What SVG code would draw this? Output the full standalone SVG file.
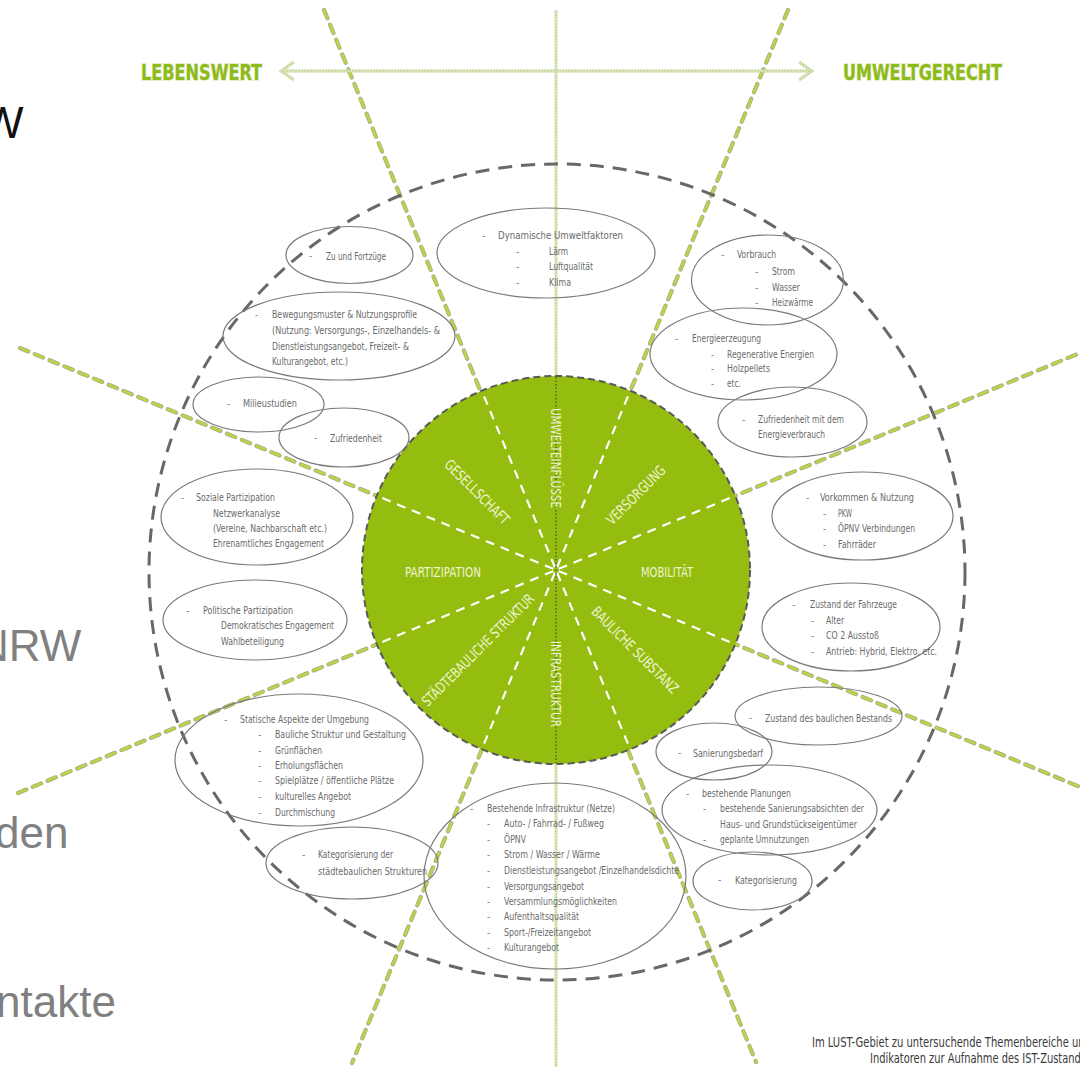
<svg xmlns="http://www.w3.org/2000/svg" width="1080" height="1067" viewBox="0 0 1080 1067">
<style>
.bg{fill:#ffffff}
.gu{fill:none;stroke:#a6b385;stroke-width:4.2;stroke-dasharray:9 7;stroke-linecap:round}
.gt{fill:none;stroke:#bcd640;stroke-width:2.3;stroke-dasharray:9 7;stroke-linecap:round}
.du{fill:none;stroke:#c6d79a;stroke-width:2.8}
.dt{fill:none;stroke:#ffffff;stroke-width:1;stroke-dasharray:1.4 1.6}
.outer{fill:none;stroke:#686868;stroke-width:3;stroke-dasharray:14 9}
.el{fill:none;stroke:#7a7a7a;stroke-width:1.2}
.t{font-family:'DejaVu Sans Condensed','Liberation Sans Narrow','Liberation Sans',sans-serif;font-size:11px;fill:#6a6a6a}
.b{font-family:'Liberation Sans',sans-serif;font-size:10px;fill:#8a8a8a}
.lab{font-family:'DejaVu Sans Condensed','Liberation Sans Narrow','Liberation Sans',sans-serif;font-size:14.5px;fill:#eef4d2}
.head{font-family:'DejaVu Sans Condensed','DejaVu Sans',sans-serif;font-weight:bold;font-size:22px;fill:#8dbb1a;stroke:#dfe9c0;stroke-width:1.6;paint-order:stroke}
.slide{font-family:'Liberation Sans',Arial,sans-serif;font-size:44px}
.cap{font-family:'DejaVu Sans Condensed','Liberation Sans Narrow','Liberation Sans',sans-serif;font-size:14.5px;fill:#3a3a3a}
.spoke{stroke:#ffffff;stroke-width:2.2;stroke-dasharray:9 7;stroke-dashoffset:-3}
</style>
<rect class="bg" x="0" y="0" width="1080" height="1067"/>

<g id="slide-text">
<text class="slide" x="-18" y="138" fill="#111111">W</text>
<text class="slide" x="-23" y="661" fill="#808080">NRW</text>
<text class="slide" x="-5" y="848" fill="#808080">den</text>
<text class="slide" x="-4" y="1017" fill="#808080">ntakte</text>
</g>

<g id="connectors">
<line class="gu" x1="324" y1="10" x2="756" y2="1062"/>
<line class="gt" x1="324" y1="10" x2="756" y2="1062"/>
<line class="gu" x1="788" y1="10" x2="352" y2="1063"/>
<line class="gt" x1="788" y1="10" x2="352" y2="1063"/>
<line class="gu" x1="20" y1="348" x2="1080" y2="787"/>
<line class="gt" x1="20" y1="348" x2="1080" y2="787"/>
<line class="gu" x1="18" y1="793" x2="1080" y2="353"/>
<line class="gt" x1="18" y1="793" x2="1080" y2="353"/>
<line class="du" x1="556" y1="10" x2="556" y2="1067"/>
<line class="dt" x1="556" y1="10" x2="556" y2="1067"/>
<line class="du" x1="282" y1="71" x2="811" y2="71"/>
<line class="dt" x1="282" y1="71" x2="811" y2="71"/>
<polyline class="du" points="294,62 281,71 294,80"/>
<polyline class="dt" points="294,62 281,71 294,80"/>
<polyline class="du" points="799,62 812,71 799,80"/>
<polyline class="dt" points="799,62 812,71 799,80"/>
</g>

<g id="outer-ring">
<circle class="outer" cx="557" cy="572" r="408"/>
</g>

<g id="heading-left"><text class="head" x="141" y="80" textLength="121" lengthAdjust="spacingAndGlyphs">LEBENSWERT</text></g>
<g id="heading-right"><text class="head" x="843" y="80" textLength="159" lengthAdjust="spacingAndGlyphs">UMWELTGERECHT</text></g>

<g id="core">
<circle cx="556" cy="570" r="194" fill="#95bd0f" stroke="#5a5a5a" stroke-width="2" stroke-dasharray="7 4"/>
<g transform="translate(556,570)">
<line class="spoke" x1="0" y1="0" x2="-74.2" y2="-179.2"/>
<line class="spoke" x1="0" y1="0" x2="74.2" y2="-179.2"/>
<line class="spoke" x1="0" y1="0" x2="-179.2" y2="-74.2"/>
<line class="spoke" x1="0" y1="0" x2="179.2" y2="-74.2"/>
<line class="spoke" x1="0" y1="0" x2="-179.2" y2="74.2"/>
<line class="spoke" x1="0" y1="0" x2="179.2" y2="74.2"/>
<line class="spoke" x1="0" y1="0" x2="-74.2" y2="179.2"/>
<line class="spoke" x1="0" y1="0" x2="74.2" y2="179.2"/>
</g>
<line x1="556" y1="377" x2="556" y2="763" stroke="#4f5a3a" stroke-width="1.4" stroke-dasharray="1.5 2"/>
<text class="lab" x="405" y="577" textLength="76" lengthAdjust="spacingAndGlyphs">PARTIZIPATION</text>
<text class="lab" x="641" y="577" textLength="52" lengthAdjust="spacingAndGlyphs">MOBILITÄT</text>
<text class="lab" transform="translate(556,458) rotate(90)" x="-50" y="5" textLength="100" lengthAdjust="spacingAndGlyphs">UMWELTEINFLÜSSE</text>
<text class="lab" transform="translate(556,684) rotate(90)" x="-43" y="5" textLength="86" lengthAdjust="spacingAndGlyphs">INFRASTRUKTUR</text>
<text class="lab" transform="translate(477,492) rotate(45)" x="-42.5" y="5" textLength="85" lengthAdjust="spacingAndGlyphs">GESELLSCHAFT</text>
<text class="lab" transform="translate(636,495) rotate(-45)" x="-38.5" y="5" textLength="77" lengthAdjust="spacingAndGlyphs">VERSORGUNG</text>
<text class="lab" transform="translate(478,650) rotate(-45)" x="-76" y="5" textLength="152" lengthAdjust="spacingAndGlyphs">STÄDTEBAULICHE STRUKTUR</text>
<text class="lab" transform="translate(635,650) rotate(45)" x="-58" y="5" textLength="116" lengthAdjust="spacingAndGlyphs">BAULICHE SUBSTANZ</text>
</g>

<g id="n-zu-fortzuege">
<ellipse class="el" cx="349.5" cy="255" rx="63.5" ry="28.5"/>
<text class="b" x="309" y="259">-</text>
<text class="t" x="326" y="260" textLength="60" lengthAdjust="spacingAndGlyphs">Zu und Fortzüge</text>
</g>

<g id="n-umweltfaktoren">
<ellipse class="el" cx="546" cy="253" rx="109" ry="45"/>
<text class="b" x="482" y="239">-</text>
<text class="t" x="498" y="239" textLength="125" lengthAdjust="spacingAndGlyphs">Dynamische Umweltfaktoren</text>
<text class="b" x="516" y="255">-</text>
<text class="t" x="549" y="255" textLength="19" lengthAdjust="spacingAndGlyphs">Lärm</text>
<text class="b" x="516" y="270">-</text>
<text class="t" x="549" y="270" textLength="44" lengthAdjust="spacingAndGlyphs">Luftqualität</text>
<text class="b" x="516" y="286">-</text>
<text class="t" x="549" y="286" textLength="22" lengthAdjust="spacingAndGlyphs">Klima</text>
</g>

<g id="n-verbrauch">
<ellipse class="el" cx="767.5" cy="280" rx="76" ry="45"/>
<text class="b" x="721" y="258">-</text>
<text class="t" x="737" y="258" textLength="39" lengthAdjust="spacingAndGlyphs">Vorbrauch</text>
<text class="b" x="755" y="275">-</text>
<text class="t" x="772" y="275" textLength="23" lengthAdjust="spacingAndGlyphs">Strom</text>
<text class="b" x="755" y="291">-</text>
<text class="t" x="772" y="291" textLength="28" lengthAdjust="spacingAndGlyphs">Wasser</text>
<text class="b" x="755" y="306">-</text>
<text class="t" x="772" y="306" textLength="41" lengthAdjust="spacingAndGlyphs">Heizwärme</text>
</g>

<g id="n-energieerzeugung">
<ellipse class="el" cx="743.5" cy="354" rx="93.5" ry="46"/>
<text class="b" x="675" y="342">-</text>
<text class="t" x="692" y="342" textLength="69" lengthAdjust="spacingAndGlyphs">Energieerzeugung</text>
<text class="b" x="711" y="358">-</text>
<text class="t" x="727" y="358" textLength="87" lengthAdjust="spacingAndGlyphs">Regenerative Energien</text>
<text class="b" x="711" y="372">-</text>
<text class="t" x="727" y="372" textLength="43" lengthAdjust="spacingAndGlyphs">Holzpellets</text>
<text class="b" x="711" y="387">-</text>
<text class="t" x="727" y="387" textLength="14" lengthAdjust="spacingAndGlyphs">etc.</text>
</g>

<g id="n-zufriedenheit-energie">
<ellipse class="el" cx="792.5" cy="422" rx="74.5" ry="35"/>
<text class="b" x="742" y="423">-</text>
<text class="t" x="758" y="423" textLength="86" lengthAdjust="spacingAndGlyphs">Zufriedenheit mit dem</text>
<text class="t" x="758" y="438" textLength="67" lengthAdjust="spacingAndGlyphs">Energieverbrauch</text>
</g>

<g id="n-bewegungsmuster">
<ellipse class="el" cx="339" cy="336" rx="116" ry="44"/>
<text class="b" x="255" y="318">-</text>
<text class="t" x="272" y="318" textLength="145" lengthAdjust="spacingAndGlyphs">Bewegungsmuster &amp; Nutzungsprofile</text>
<text class="t" x="272" y="334" textLength="168" lengthAdjust="spacingAndGlyphs">(Nutzung: Versorgungs-, Einzelhandels- &amp;</text>
<text class="t" x="272" y="350" textLength="137" lengthAdjust="spacingAndGlyphs">Dienstleistungsangebot, Freizeit- &amp;</text>
<text class="t" x="272" y="365" textLength="76" lengthAdjust="spacingAndGlyphs">Kulturangebot, etc.)</text>
</g>

<g id="n-milieustudien">
<ellipse class="el" cx="258.5" cy="404.5" rx="65.5" ry="27.5"/>
<text class="b" x="227" y="407">-</text>
<text class="t" x="243" y="407" textLength="54" lengthAdjust="spacingAndGlyphs">Milieustudien</text>
</g>

<g id="n-zufriedenheit">
<ellipse class="el" cx="344" cy="437.5" rx="65" ry="29.5"/>
<text class="b" x="314" y="441">-</text>
<text class="t" x="330" y="442" textLength="52" lengthAdjust="spacingAndGlyphs">Zufriedenheit</text>
</g>

<g id="n-soziale-partizipation">
<ellipse class="el" cx="257" cy="517" rx="96" ry="48"/>
<text class="b" x="181" y="501">-</text>
<text class="t" x="196" y="501" textLength="79" lengthAdjust="spacingAndGlyphs">Soziale Partizipation</text>
<text class="t" x="213" y="517" textLength="67" lengthAdjust="spacingAndGlyphs">Netzwerkanalyse</text>
<text class="t" x="213" y="532" textLength="114" lengthAdjust="spacingAndGlyphs">(Vereine, Nachbarschaft etc.)</text>
<text class="t" x="213" y="547" textLength="111" lengthAdjust="spacingAndGlyphs">Ehrenamtliches Engagement</text>
</g>

<g id="n-politische-partizipation">
<ellipse class="el" cx="255" cy="620" rx="92" ry="40"/>
<text class="b" x="186" y="614">-</text>
<text class="t" x="203" y="614" textLength="90" lengthAdjust="spacingAndGlyphs">Politische Partizipation</text>
<text class="t" x="221" y="629" textLength="113" lengthAdjust="spacingAndGlyphs">Demokratisches Engagement</text>
<text class="t" x="221" y="645" textLength="63" lengthAdjust="spacingAndGlyphs">Wahlbeteiligung</text>
</g>

<g id="n-vorkommen-nutzung">
<ellipse class="el" cx="862.5" cy="516" rx="90.5" ry="44"/>
<text class="b" x="806" y="501">-</text>
<text class="t" x="820" y="501" textLength="94" lengthAdjust="spacingAndGlyphs">Vorkommen &amp; Nutzung</text>
<text class="b" x="823" y="517">-</text>
<text class="t" x="838" y="517" textLength="14" lengthAdjust="spacingAndGlyphs">PKW</text>
<text class="b" x="823" y="532">-</text>
<text class="t" x="838" y="532" textLength="77" lengthAdjust="spacingAndGlyphs">ÖPNV Verbindungen</text>
<text class="b" x="823" y="548">-</text>
<text class="t" x="838" y="548" textLength="38" lengthAdjust="spacingAndGlyphs">Fahrräder</text>
</g>

<g id="n-zustand-fahrzeuge">
<ellipse class="el" cx="851" cy="627" rx="89" ry="44"/>
<text class="b" x="792" y="608">-</text>
<text class="t" x="810" y="608" textLength="87" lengthAdjust="spacingAndGlyphs">Zustand der Fahrzeuge</text>
<text class="b" x="811" y="624">-</text>
<text class="t" x="826" y="624" textLength="18" lengthAdjust="spacingAndGlyphs">Alter</text>
<text class="b" x="811" y="639">-</text>
<text class="t" x="826" y="639" textLength="53" lengthAdjust="spacingAndGlyphs">CO 2 Ausstoß</text>
<text class="b" x="811" y="655">-</text>
<text class="t" x="826" y="655" textLength="111" lengthAdjust="spacingAndGlyphs">Antrieb: Hybrid, Elektro, etc.</text>
</g>

<g id="n-statische-aspekte">
<ellipse class="el" cx="299" cy="760" rx="124" ry="66"/>
<text class="b" x="224" y="723">-</text>
<text class="t" x="240" y="723" textLength="129" lengthAdjust="spacingAndGlyphs">Statische Aspekte der Umgebung</text>
<text class="b" x="258" y="738">-</text>
<text class="t" x="275" y="738" textLength="131" lengthAdjust="spacingAndGlyphs">Bauliche Struktur und Gestaltung</text>
<text class="b" x="258" y="754">-</text>
<text class="t" x="275" y="754" textLength="47" lengthAdjust="spacingAndGlyphs">Grünflächen</text>
<text class="b" x="258" y="769">-</text>
<text class="t" x="275" y="769" textLength="68" lengthAdjust="spacingAndGlyphs">Erholungsflächen</text>
<text class="b" x="258" y="784">-</text>
<text class="t" x="275" y="784" textLength="119" lengthAdjust="spacingAndGlyphs">Spielplätze / öffentliche Plätze</text>
<text class="b" x="258" y="800">-</text>
<text class="t" x="275" y="800" textLength="76" lengthAdjust="spacingAndGlyphs">kulturelles Angebot</text>
<text class="b" x="258" y="816">-</text>
<text class="t" x="275" y="816" textLength="60" lengthAdjust="spacingAndGlyphs">Durchmischung</text>
</g>

<g id="n-kategorisierung-strukturen">
<ellipse class="el" cx="352" cy="863" rx="86" ry="36"/>
<text class="b" x="302" y="858">-</text>
<text class="t" x="318" y="858" textLength="75" lengthAdjust="spacingAndGlyphs">Kategorisierung der</text>
<text class="t" x="318" y="875" textLength="109" lengthAdjust="spacingAndGlyphs">städtebaulichen Strukturen</text>
</g>

<g id="n-infrastruktur">
<ellipse class="el" cx="555" cy="876" rx="131" ry="93"/>
<text class="b" x="470" y="812">-</text>
<text class="t" x="487" y="812" textLength="128" lengthAdjust="spacingAndGlyphs">Bestehende Infrastruktur (Netze)</text>
<text class="b" x="487" y="827">-</text>
<text class="t" x="504" y="827" textLength="100" lengthAdjust="spacingAndGlyphs">Auto- / Fahrrad- / Fußweg</text>
<text class="b" x="487" y="843">-</text>
<text class="t" x="504" y="843" textLength="22" lengthAdjust="spacingAndGlyphs">ÖPNV</text>
<text class="b" x="487" y="858">-</text>
<text class="t" x="504" y="858" textLength="96" lengthAdjust="spacingAndGlyphs">Strom / Wasser / Wärme</text>
<text class="b" x="487" y="874">-</text>
<text class="t" x="504" y="874" textLength="175" lengthAdjust="spacingAndGlyphs">Dienstleistungsangebot /Einzelhandelsdichte</text>
<text class="b" x="487" y="890">-</text>
<text class="t" x="504" y="890" textLength="80" lengthAdjust="spacingAndGlyphs">Versorgungsangebot</text>
<text class="b" x="487" y="905">-</text>
<text class="t" x="504" y="905" textLength="113" lengthAdjust="spacingAndGlyphs">Versammlungsmöglichkeiten</text>
<text class="b" x="487" y="920">-</text>
<text class="t" x="504" y="920" textLength="75" lengthAdjust="spacingAndGlyphs">Aufenthaltsqualität</text>
<text class="b" x="487" y="936">-</text>
<text class="t" x="504" y="936" textLength="87" lengthAdjust="spacingAndGlyphs">Sport-/Freizeitangebot</text>
<text class="b" x="487" y="951">-</text>
<text class="t" x="504" y="951" textLength="55" lengthAdjust="spacingAndGlyphs">Kulturangebot</text>
</g>

<g id="n-zustand-bestand">
<ellipse class="el" cx="818.5" cy="716" rx="83.5" ry="29"/>
<text class="b" x="749" y="721">-</text>
<text class="t" x="765" y="722" textLength="127" lengthAdjust="spacingAndGlyphs">Zustand des baulichen Bestands</text>
</g>

<g id="n-sanierungsbedarf">
<ellipse class="el" cx="714" cy="751.5" rx="58" ry="28.5"/>
<text class="b" x="678" y="756">-</text>
<text class="t" x="693" y="757" textLength="70" lengthAdjust="spacingAndGlyphs">Sanierungsbedarf</text>
</g>

<g id="n-planungen">
<ellipse class="el" cx="769.5" cy="810" rx="107.5" ry="45"/>
<text class="b" x="686" y="797">-</text>
<text class="t" x="702" y="797" textLength="89" lengthAdjust="spacingAndGlyphs">bestehende Planungen</text>
<text class="b" x="703" y="812">-</text>
<text class="t" x="720" y="812" textLength="144" lengthAdjust="spacingAndGlyphs">bestehende Sanierungsabsichten der</text>
<text class="t" x="720" y="828" textLength="137" lengthAdjust="spacingAndGlyphs">Haus- und Grundstückseigentümer</text>
<text class="b" x="703" y="843">-</text>
<text class="t" x="720" y="843" textLength="89" lengthAdjust="spacingAndGlyphs">geplante Umnutzungen</text>
</g>

<g id="n-kategorisierung">
<ellipse class="el" cx="752.5" cy="881" rx="59.5" ry="29"/>
<text class="b" x="718" y="883">-</text>
<text class="t" x="735" y="884" textLength="62" lengthAdjust="spacingAndGlyphs">Kategorisierung</text>
</g>

<g id="caption">
<text class="cap" x="812" y="1047" textLength="279" lengthAdjust="spacingAndGlyphs">Im LUST-Gebiet zu untersuchende Themenbereiche und</text>
<text class="cap" x="870" y="1063" textLength="216" lengthAdjust="spacingAndGlyphs">Indikatoren zur Aufnahme des IST-Zustands</text>
</g>
</svg>
